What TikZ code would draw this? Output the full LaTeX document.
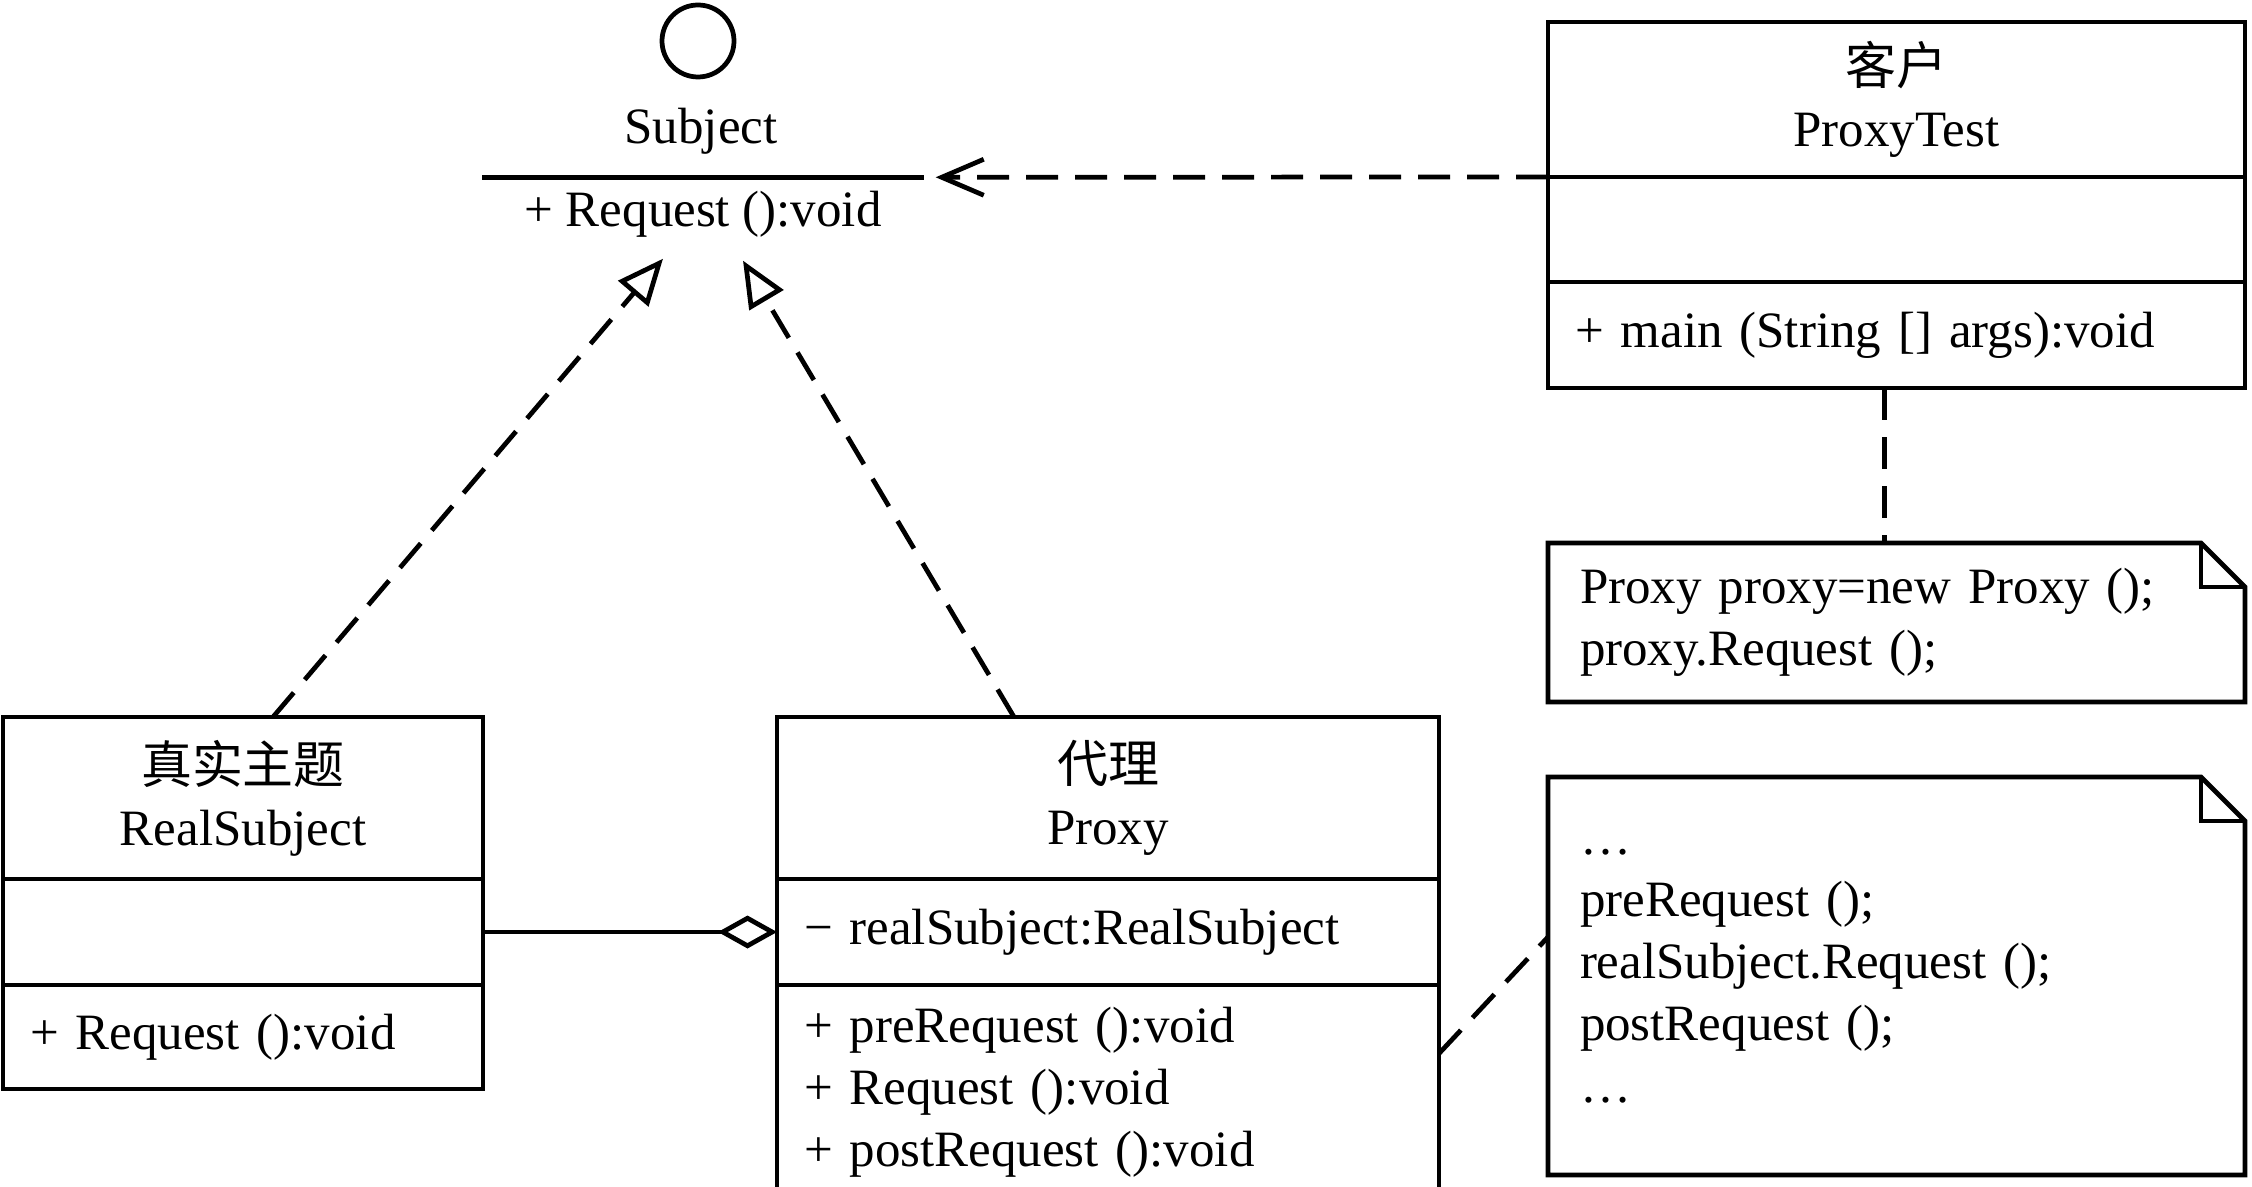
\documentclass[tikz,border=0pt]{standalone}
\usepackage{fontspec}
\setmainfont{Liberation Serif}
\newfontfamily\cjk{Noto Sans CJK SC}
\usetikzlibrary{calc, positioning, arrows.meta}
\tikzset{every node/.style={font=\fontsize{14.5}{17.6}\selectfont}}

\begin{document}
\begin{tikzpicture}[
		box/.style={draw, line width=1.35pt, inner ysep=0pt, inner xsep=0.27cm, outer sep=0pt},
		head/.style={box, align=center},
		members/.style={box, align=left},
		note/.style={inner xsep=0.32cm, inner ysep=0pt, align=left, outer sep=0pt},
		dep/.style={line width=1.35pt, dash pattern=on 0.32cm off 0.17cm},
		real/.style={dep, -{Triangle[open, length=0.46cm, width=0.39cm]}},
		use/.style={dep, -{Straight Barb[length=0.42cm, width=0.36cm]}},
		agg/.style={line width=1.35pt, -{Diamond[open, length=0.59cm, width=0.33cm]}}
	]
		\useasboundingbox (0,0) rectangle (22.52,-11.87);
		
		\node(ic) [draw, circle, line width=1.35pt, minimum size=0.72cm, inner sep=0pt] at (6.98,-0.41) {};
		\node(subj) at (7.01,-1.31) {Subject};
		\node(subjM) [minimum width=4.40cm, minimum height=0.72cm, inner sep=0pt] at (7.03,-2.14) {+ Request ():void};
		\draw[line width=1.35pt] (subjM.north west) -- (subjM.north east);
		
		\node(pt) [head, text width=6.43cm, minimum height=1.55cm] at (18.965,-0.995) {{\cjk 客户}\\ProxyTest};
		\node(ptA) [box, text width=6.43cm, minimum height=1.05cm, below=0pt of pt] {};
		\node(ptM) [members, text width=6.43cm, minimum height=1.06cm, below=0pt of ptA] {+ main (String [] args):void};
		
		\node(note1) [note, text width=6.33cm, minimum height=1.59cm] at (18.965,-6.225) {Proxy proxy=new Proxy ();\\proxy.Request ();};
		\node(note2) [note, text width=6.33cm, minimum height=3.98cm] at (18.965,-9.76) {\dots\\preRequest ();\\realSubject.Request ();\\postRequest ();\\\dots};
		\foreach \n in {note1, note2} {
			\draw[line width=1.35pt] (\n.south west) -- (\n.north west) -- ($(\n.north east)+(-0.44,0)$) -- ($(\n.north east)+(0,-0.44)$) -- (\n.south east) -- cycle;
			\draw[line width=1.35pt] ($(\n.north east)+(-0.44,0)$) |- ($(\n.north east)+(0,-0.44)$);
		}
		
		\node(rs) [head, text width=4.26cm, minimum height=1.62cm] at (2.43,-7.98) {{\cjk 真实主题}\\RealSubject};
		\node(rsA) [box, text width=4.26cm, minimum height=1.06cm, below=0pt of rs] {};
		\node(rsM) [members, text width=4.26cm, minimum height=1.04cm, below=0pt of rsA] {+ Request ():void};
		
		\node(px) [head, text width=6.08cm, minimum height=1.62cm] at (11.08,-7.98) {{\cjk 代理}\\Proxy};
		\node(pxA) [members, text width=6.08cm, minimum height=1.06cm, below=0pt of px] {− realSubject:RealSubject};
		\node(pxM) [members, text width=6.08cm, minimum height=2.15cm, below=0pt of pxA] {+ preRequest ():void\\+ Request ():void\\+ postRequest ():void};
		
		\draw[real] ($(rs.north)+(0.30,0)$) -- ($(subjM.south)+(-0.40,-0.08)$);
		\draw[real] ($(px.north)+(-0.94,0)$) -- ($(subjM.south)+(0.40,-0.10)$);
		\draw[use, shorten >=0.12cm] (pt.south west) -- (subjM.north east);
		\draw[dep] ($(ptM.south)+(-0.12,0)$) -- ($(note1.north)+(-0.12,0)$);
		\draw[dep] ($(pxM.east)+(0,0.39)$) -- ($(note2.west)+(0,0.39)$);
		\draw[agg] (rsA.east) -- (pxA.west);
\end{tikzpicture}
\end{document}
